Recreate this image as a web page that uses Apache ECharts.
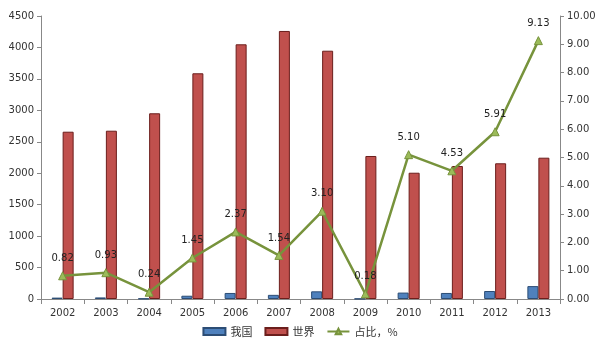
<!DOCTYPE html>
<html><head><meta charset="utf-8">
<script src="https://cdn.jsdelivr.net/npm/echarts@6/dist/echarts.min.js"></script>
<style>html,body{margin:0;padding:0;background:#fff}#c{width:600px;height:346px}</style>
</head><body><div id="c"></div>
<script>
var years = ['2002','2003','2004','2005','2006','2007','2008','2009','2010','2011','2012','2013'];
var china = [22, 25, 7, 52, 96, 66, 122, 4, 102, 96, 127, 205];
var world = [2660, 2676, 2953, 3589, 4050, 4262, 3948, 2274, 2008, 2115, 2158, 2247];
var share = [0.82, 0.93, 0.24, 1.45, 2.37, 1.54, 3.10, 0.18, 5.10, 4.53, 5.91, 9.13];

var chart = echarts.init(document.getElementById('c'));
var axisStyle = {show:true, lineStyle:{color:'#888', width:1}};
chart.setOption({
  animation:false,
  textStyle:{fontFamily:'DejaVu Sans'},
  grid:{left:41, right:40, top:16, bottom:47},
  legend:{
    bottom:4, left:'center', itemWidth:22, itemHeight:7, itemGap:12,
    textStyle:{fontSize:11, color:'#333', fontFamily:'Noto Sans CJK SC'},
    data:[{name:'我国', icon:'rect'},{name:'世界', icon:'rect'},{name:'占比，%'}]
  },
  xAxis:{
    type:'category', data:years,
    axisLine:axisStyle,
    axisTick:{show:true, alignWithLabel:false, length:5, lineStyle:{color:'#888'}},
    axisLabel:{fontSize:10, color:'#333', margin:9}
  },
  yAxis:[{
    type:'value', min:0, max:4500, interval:500,
    axisLine:axisStyle, axisTick:{show:true, length:4, lineStyle:{color:'#888'}},
    splitLine:{show:false},
    axisLabel:{fontSize:10, color:'#333', margin:7, formatter:function(v){return String(v);}}
  },{
    type:'value', min:0, max:10, interval:1,
    axisLine:axisStyle, axisTick:{show:true, length:4, lineStyle:{color:'#888'}},
    splitLine:{show:false},
    axisLabel:{fontSize:10, color:'#333', margin:7, formatter:function(v){return v.toFixed(2);}}
  }],
  series:[{
    name:'我国', type:'bar', data:china, barWidth:11, barGap:'0%',
    itemStyle:{color:'#4F81BD', borderColor:'#2C4D75', borderWidth:1}
  },{
    name:'世界', type:'bar', data:world, barWidth:11,
    itemStyle:{color:'#C0504D', borderColor:'#6B1E1C', borderWidth:1}
  },{
    name:'占比，%', type:'line', yAxisIndex:1, data:share,
    symbol:'triangle', symbolSize:8,
    lineStyle:{color:'#77933C', width:2.5},
    itemStyle:{color:'#9BBB59', borderColor:'#77933C', borderWidth:1},
    label:{show:true, position:'top', distance:8, fontSize:10, color:'#222',
      formatter:function(p){return p.value.toFixed(2);}}
  }]
});
</script></body></html>
